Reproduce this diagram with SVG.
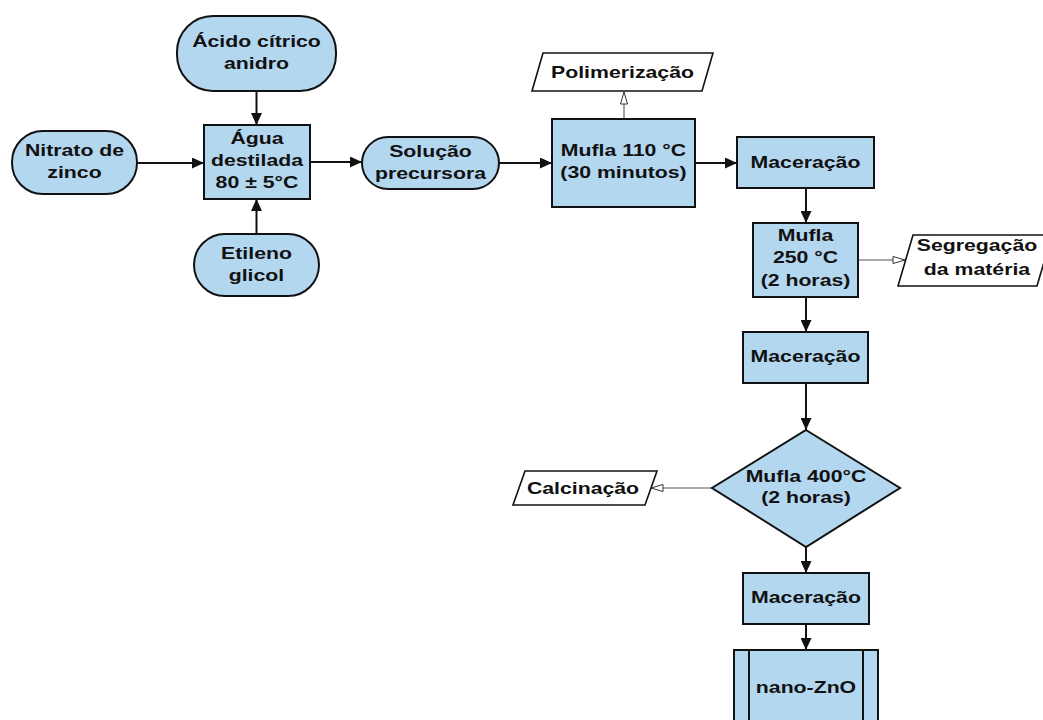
<svg xmlns="http://www.w3.org/2000/svg" width="1043" height="720" viewBox="0 0 1043 720">
<style>
.n{fill:#b4d7f0;stroke:#111;stroke-width:2}
.o{fill:#fff;stroke:#111;stroke-width:1.6}
.t{font-family:"Liberation Sans",Arial,sans-serif;font-weight:bold;font-size:17px;fill:#111;text-anchor:middle}
.c{fill:none;stroke:#111;stroke-width:2}
.s{fill:none;stroke:#555;stroke-width:1.1}
</style>
<defs>
<marker id="ah" markerWidth="12" markerHeight="11" refX="12" refY="5.5" orient="auto" markerUnits="userSpaceOnUse"><path d="M0,0 L12,5.5 L0,11 z" fill="#111"/></marker>
<marker id="oh" markerWidth="14" markerHeight="9" refX="13" refY="4.5" orient="auto" markerUnits="userSpaceOnUse"><path d="M1,1 L13,4.5 L1,8 z" fill="#fff" stroke="#333" stroke-width="1"/></marker>
</defs>
<rect width="1043" height="720" fill="#fff"/>
<g id="connectors">
<path class="c" d="M256.5,91 V125" marker-end="url(#ah)"/>
<path class="c" d="M256.5,234 V199" marker-end="url(#ah)"/>
<path class="c" d="M137,163 H204" marker-end="url(#ah)"/>
<path class="c" d="M310,162 H362" marker-end="url(#ah)"/>
<path class="c" d="M499,163 H552" marker-end="url(#ah)"/>
<path class="c" d="M695,163 H737" marker-end="url(#ah)"/>
<path class="c" d="M806,188 V223" marker-end="url(#ah)"/>
<path class="c" d="M806,297 V332" marker-end="url(#ah)"/>
<path class="c" d="M806,383 V430" marker-end="url(#ah)"/>
<path class="c" d="M806,547 V573" marker-end="url(#ah)"/>
<path class="c" d="M806,624 V650" marker-end="url(#ah)"/>
<path class="s" d="M624,119 V92" marker-end="url(#oh)"/>
<path class="s" d="M858,260 H905" marker-end="url(#oh)"/>
<path class="s" d="M712,488 H651" marker-end="url(#oh)"/>
</g>
<g id="acido">
<rect class="n" x="177" y="16" width="159" height="75" rx="36" ry="36"/>
<text class="t" transform="scale(1.25 1)"><tspan x="205.2" y="47">Ácido cítrico</tspan><tspan x="205.2" y="69">anidro</tspan></text>
</g>
<g id="nitrato">
<rect class="n" x="12" y="131" width="125" height="63" rx="31" ry="31"/>
<text class="t" transform="scale(1.25 1)"><tspan x="59.6" y="156">Nitrato de</tspan><tspan x="59.6" y="178">zinco</tspan></text>
</g>
<g id="agua">
<rect class="n" x="204" y="125" width="106" height="74"/>
<text class="t" transform="scale(1.25 1)"><tspan x="205.6" y="144">Água</tspan><tspan x="205.6" y="166">destilada</tspan><tspan x="205.6" y="188">80 ± 5°C</tspan></text>
</g>
<g id="etileno">
<rect class="n" x="194" y="234" width="125" height="62" rx="31" ry="31"/>
<text class="t" transform="scale(1.25 1)"><tspan x="205.2" y="259">Etileno</tspan><tspan x="205.2" y="281">glicol</tspan></text>
</g>
<g id="solucao">
<rect class="n" x="362" y="137" width="137" height="52" rx="26" ry="26"/>
<text class="t" transform="scale(1.25 1)"><tspan x="344.4" y="157">Solução</tspan><tspan x="344.4" y="179">precursora</tspan></text>
</g>
<g id="polimerizacao">
<polygon class="o" points="543,53 713,53 702,91 532,91"/>
<text class="t" transform="scale(1.25 1)" x="498" y="78">Polimerização</text>
</g>
<g id="mufla110">
<rect class="n" x="552" y="119" width="143" height="88"/>
<text class="t" transform="scale(1.25 1)"><tspan x="498.8" y="156">Mufla 110 °C</tspan><tspan x="498.8" y="178">(30 minutos)</tspan></text>
</g>
<g id="maceracao1">
<rect class="n" x="737" y="137" width="137" height="51"/>
<text class="t" transform="scale(1.25 1)" x="644.4" y="168">Maceração</text>
</g>
<g id="mufla250">
<rect class="n" x="753" y="223" width="105" height="74"/>
<text class="t" transform="scale(1.25 1)"><tspan x="644.4" y="241">Mufla</tspan><tspan x="644.4" y="263">250 °C</tspan><tspan x="644.4" y="286">(2 horas)</tspan></text>
</g>
<g id="segregacao">
<polygon class="o" points="913,235 1052,235 1037,286 898,286"/>
<text class="t" transform="scale(1.25 1)"><tspan x="781.6" y="251">Segregação</tspan><tspan x="781.6" y="275">da matéria</tspan></text>
</g>
<g id="maceracao2">
<rect class="n" x="743" y="332" width="125" height="51"/>
<text class="t" transform="scale(1.25 1)" x="644.4" y="362">Maceração</text>
</g>
<g id="mufla400">
<polygon class="n" points="806,430 900,488 806,547 712,488"/>
<text class="t" transform="scale(1.25 1)"><tspan x="644.8" y="482">Mufla 400°C</tspan><tspan x="644.8" y="503">(2 horas)</tspan></text>
</g>
<g id="calcinacao">
<polygon class="o" points="525,471 657,471 645,505 513,505"/>
<text class="t" transform="scale(1.25 1)" x="466.4" y="494">Calcinação</text>
</g>
<g id="maceracao3">
<rect class="n" x="743" y="573" width="126" height="51"/>
<text class="t" transform="scale(1.25 1)" x="644.8" y="603">Maceração</text>
</g>
<g id="nanozno">
<rect class="n" x="734" y="650" width="144" height="85"/>
<path class="c" d="M749,650 V730 M863,650 V730"/>
<text class="t" transform="scale(1.25 1)" x="644.8" y="693">nano-ZnO</text>
</g>
</svg>
